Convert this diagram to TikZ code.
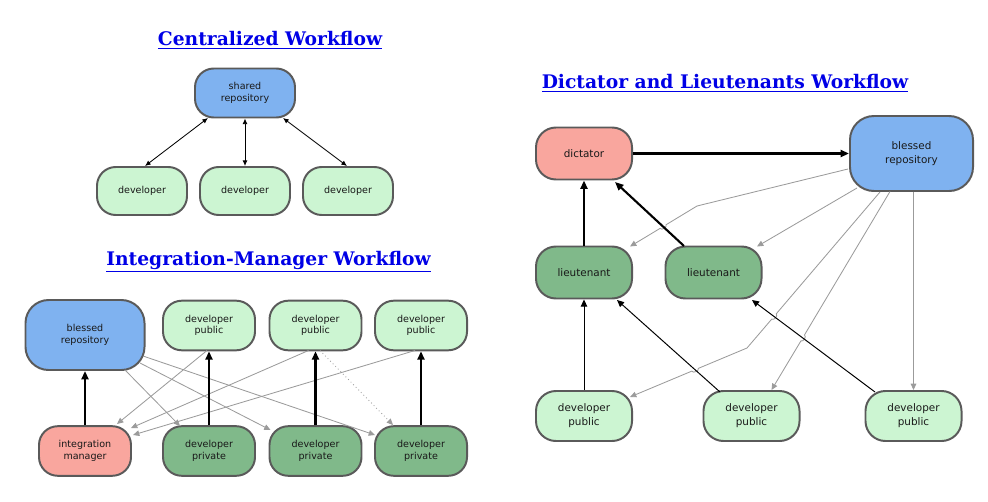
\documentclass[tikz,border=0pt]{standalone}
\usepackage{fontspec}
\setmainfont{DejaVu Sans}
\newfontfamily\titlefont{DejaVu Serif}
\usetikzlibrary{arrows.meta,calc}
\definecolor{repoblue}{RGB}{127,178,240}
\definecolor{devlight}{RGB}{204,245,210}
\definecolor{devdark}{RGB}{128,185,138}
\definecolor{mgrpink}{RGB}{249,166,158}
\definecolor{boxline}{RGB}{90,90,90}
\definecolor{linkblue}{RGB}{0,0,230}
\definecolor{pathgray}{RGB}{155,155,155}
\begin{document}
\begin{tikzpicture}[x=0.025cm,y=-0.025cm,
  title/.style={font=\titlefont\bfseries\fontsize{13.3}{15}\selectfont,text=linkblue},
  box/.style={draw=boxline,line width=1.4pt,rounded corners=0.47cm,align=center,inner sep=0pt,
    text=black!90,font=\fontsize{6.8}{8.3}\selectfont},
  cbox/.style={box,minimum width=2.25cm,minimum height=1.2cm},
  ibox/.style={box,minimum width=2.3cm,minimum height=1.24cm},
  dbox/.style={box,minimum width=2.4cm,minimum height=1.3cm,rounded corners=0.5cm,font=\fontsize{7.4}{10}\selectfont},
  dbl/.style={<->,>={Latex[length=4pt,width=3.5pt]},line width=0.6pt},
  push/.style={-{Triangle[length=6pt,width=5pt]},line width=1.5pt},
  pass/.style={-{Triangle[length=5pt,width=4.5pt]},line width=0.7pt},
  pull/.style={-{Triangle[length=4.5pt,width=4pt]},draw=pathgray,line width=0.6pt}]
\useasboundingbox (0,0) rectangle (988,501);
%centralized
\node[title] (ct) at (270,40) {\underline{Centralized Workflow}};
\node[cbox,fill=repoblue,minimum width=2.5cm,minimum height=1.225cm] (rep) at (245,93) {shared\\repository};
\node[cbox,fill=devlight] (cd1) at (142,191) {developer};
\node[cbox,fill=devlight] (cd2) at (245,191) {developer};
\node[cbox,fill=devlight] (cd3) at (348,191) {developer};
\draw[dbl] ($(rep)+(-37,25)$)--($(cd1)+(3,-25)$);
\draw[dbl] (rep.south)--(cd2.north);
\draw[dbl] ($(rep)+(38,25)$)--($(cd3)+(-1,-25)$);
%integration manager
\node[title] (it) at (268.5,262) {\underline{Integration-Manager Workflow}};
\node[ibox,fill=repoblue,minimum width=2.975cm,minimum height=1.75cm,rounded corners=0.58cm] (bl) at (85,335) {blessed\\repository};
\node[ibox,fill=devlight] (pu1) at (209,325.5) {developer\\public};
\node[ibox,fill=devlight] (pu2) at (315.5,325.5) {developer\\public};
\node[ibox,fill=devlight] (pu3) at (421,325.5) {developer\\public};
\node[ibox,fill=mgrpink] (im) at (85,451) {integration\\manager};
\node[ibox,fill=devdark] (pr1) at (209,451) {developer\\private};
\node[ibox,fill=devdark] (pr2) at (315.5,451) {developer\\private};
\node[ibox,fill=devdark] (pr3) at (421,451) {developer\\private};
\draw[pull] ($(bl)+(40,35)$)--($(pr1)+(-29,-25)$);
\draw[pull] ($(bl)+(55,28)$)--($(pr2)+(-45,-21)$);
\draw[pull] ($(bl)+(58,21)$)--($(pr3)+(-46,-16)$);
\draw[pull] ($(pu1)+(-2,25)$)--($(im)+(32,-27)$);
\draw[pull] ($(pu2)+(-7,25)$)--($(im)+(46,-23)$);
\draw[pull] ($(pu3)+(-6,25)$)--($(im)+(48,-16)$);
\draw[pull,dotted] ($(pu2)+(4.5,25)$)--($(pr3)+(-28,-26)$);
\draw[push] (im.north)--(bl.south);
\draw[push] (pr1.north)--(pu1.south);
\draw[push] (pr2.north)--(pu2.south);
\draw[push] (pr3.north)--(pu3.south);
%dictator and lieutenants
\node[title] (dt) at (725,83) {\underline{Dictator and Lieutenants Workflow}};
\node[dbox,fill=mgrpink] (dic) at (584,153.5) {dictator};
\node[dbox,fill=repoblue,minimum width=3.075cm,minimum height=1.875cm,rounded corners=0.6cm] (br) at (911.5,153.5) {blessed\\repository};
\node[dbox,fill=devdark] (lt1) at (584,272.5) {lieutenant};
\node[dbox,fill=devdark] (lt2) at (713.5,272.5) {lieutenant};
\node[dbox,fill=devlight,minimum height=1.25cm] (dp1) at (584,416) {developer\\public};
\node[dbox,fill=devlight,minimum height=1.25cm] (dp2) at (751.5,416) {developer\\public};
\node[dbox,fill=devlight,minimum height=1.25cm] (dp3) at (913.5,416) {developer\\public};
\coordinate (la) at ($(lt2)+(-29.5,-26.5)$);
\coordinate (lb) at ($(dic)+(31,28.5)$);
\coordinate (pa) at ($(dp2)+(-31.5,-24)$);
\coordinate (pb) at ($(lt1)+(33,27.5)$);
\coordinate (qa) at ($(dp3)+(-38.5,-24)$);
\coordinate (qb) at ($(lt2)+(38.5,27.5)$);
\coordinate (k1) at (697,206);
\coordinate (e1) at ($(lt1)+(46,-26)$);
\coordinate (s3) at ($(br)+(-31.5,38.5)$);
\coordinate (k3) at (747,348);
\coordinate (e3) at ($(dp1)+(46,-19)$);
\coordinate (s4) at ($(br)+(-21.5,38)$);
\coordinate (e4) at ($(dp2)+(20,-26)$);
%small hops where the grey lines cross
\coordinate (x1) at (intersection of k1--e1 and la--lb);
\coordinate (x2) at (intersection of s3--k3 and qa--qb);
\coordinate (x3) at (intersection of k3--e3 and pa--pb);
\coordinate (x4) at (intersection of s4--e4 and qa--qb);
\draw[pull] ($(br)+(-63.5,15.5)$)--(k1)--($(x1)!2.5pt!(k1)$) to[bend left=90] ($(x1)!2.5pt!(e1)$)--(e1);
\draw[pull] ($(br)+(-54.5,34.5)$)--($(lt2)+(43.5,-26)$);
\draw[pull] (s3)--($(x2)!2.5pt!(s3)$) to[bend left=90] ($(x2)!2.5pt!(k3)$)--(k3)--($(x3)!2.5pt!(k3)$) to[bend left=90] ($(x3)!2.5pt!(e3)$)--(e3);
\draw[pull] (s4)--($(x4)!2.5pt!(s4)$) to[bend left=90] ($(x4)!2.5pt!(e4)$)--(e4);
\draw[pull] (dp3.north |- br.south)--(dp3.north);
\draw[push] (dic.east)--(br.west);
\draw[push] (lt1.north)--(dic.south);
\draw[push] (la)--(lb);
\draw[pass] (dp1.north)--(lt1.south);
\draw[pass] (pa)--(pb);
\draw[pass] (qa)--(qb);
\end{tikzpicture}
\end{document}
